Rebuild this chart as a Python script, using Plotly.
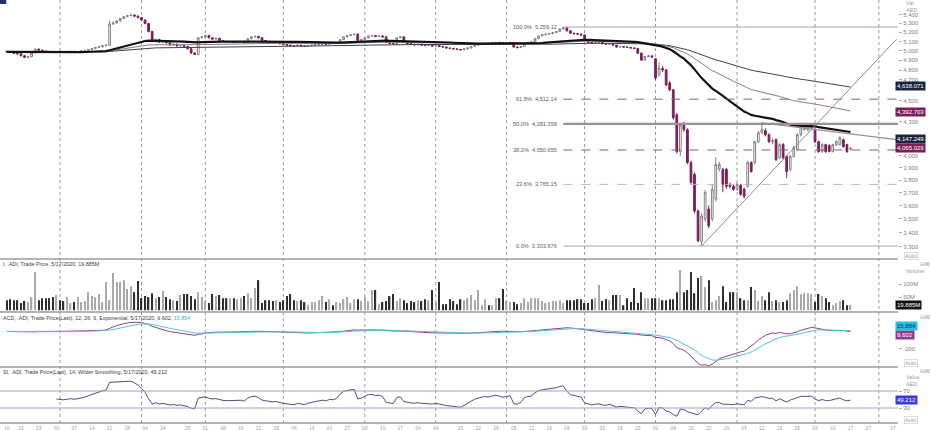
import numpy as np
import pandas as pd
import plotly.graph_objects as go

# ------------------------------------------------------------------ data
open_px = [
    4995, 4988, 4984, 4972, 4968, 4948, 4932, 4938, 4978, 5018, 5006, 4998, 4992, 4990, 4986,
    4992, 4990, 4986, 4990, 4994, 4990, 4992, 4998, 5004, 5012, 5024, 5036, 5042, 5054, 5060, 5295, 5305, 5328, 5355, 5376, 5390, 5394, 5382,
    5365, 5338, 5298, 5210, 5100, 5122, 5092, 5102, 5086, 5062, 5070, 5052, 5056, 5046, 5022, 4976, 4962, 5140,
    5150, 5166, 5140, 5126, 5134, 5110, 5100, 5096, 5098, 5090, 5095, 5100, 5090, 5130, 5150, 5156, 5140, 5110, 5100, 5094, 5086, 5090,
    5076, 5066, 5060, 5055, 5050, 5060, 5050, 5046, 5056, 5060, 5066, 5070, 5076, 5070, 5080, 5078, 5086, 5120, 5150, 5164, 5174, 5180, 5110,
    5120, 5140, 5160, 5164, 5154, 5160, 5150, 5090, 5080, 5076, 5140, 5150, 5090, 5076, 5070, 5064, 5070, 5060, 5056, 5060,
    5050, 5056, 5046, 5040, 5030, 5025, 5020, 5014, 5010, 5020, 5030, 5046, 5060, 5070, 5076, 5080, 5078, 5086, 5090, 5085,
    5080, 5086, 5090, 5040, 5034, 5046, 5080, 5090, 5096, 5130, 5160, 5174, 5180, 5186, 5196, 5210, 5238, 5250, 5216, 5190, 5184, 5180,
    5170, 5110, 5090, 5080, 5086, 5090, 5076, 5070, 5078, 5060, 5040, 5046, 5040, 5036, 5030, 5025, 4975, 4902, 4940, 4946,
    4915, 4750, 4815, 4801, 4670, 4602, 4365, 4037, 4273, 4229, 3944, 3846, 3558, 3334, 3499, 3573, 3499, 3649, 3890, 3887, 3887, 3766, 3750,
    3726, 3758, 3726, 3750, 3944, 3944, 4123, 4202, 4220, 4184, 4123, 4140, 3985, 4097, 3995, 3887, 3995, 4054, 4184, 4229, 4229, 4247,
    4229, 4123, 4037, 4097, 4089, 4037, 4097, 4097, 4140, 4097, 4060,
]
high_px = [
    5000, 4995, 4990, 4980, 4972, 4955, 4945, 4985, 5025, 5024, 5012, 5004, 5000, 4998, 4996,
    4998, 4996, 4994, 4998, 5000, 4996, 5002, 5008, 5016, 5028, 5040, 5048, 5058, 5066, 5330, 5318, 5335, 5362, 5384, 5398, 5402, 5400, 5388,
    5372, 5345, 5305, 5218, 5130, 5128, 5108, 5110, 5092, 5076, 5076, 5062, 5062, 5052, 5028, 4985, 5148, 5158,
    5172, 5172, 5146, 5140, 5140, 5116, 5108, 5104, 5104, 5100, 5106, 5106, 5136, 5156, 5162, 5160, 5146, 5116, 5106, 5100, 5096, 5096,
    5082, 5072, 5066, 5062, 5066, 5064, 5056, 5060, 5064, 5070, 5074, 5080, 5082, 5086, 5086, 5090, 5126, 5156, 5170, 5180, 5186, 5184, 5126,
    5144, 5164, 5170, 5168, 5164, 5164, 5154, 5096, 5086, 5146, 5158, 5154, 5096, 5082, 5076, 5074, 5076, 5066, 5066, 5064,
    5060, 5060, 5052, 5046, 5036, 5030, 5026, 5020, 5024, 5034, 5050, 5064, 5074, 5080, 5084, 5086, 5090, 5094, 5096, 5090,
    5090, 5096, 5094, 5046, 5050, 5084, 5094, 5100, 5136, 5164, 5180, 5184, 5190, 5200, 5214, 5244, 5259.12, 5254, 5222, 5196, 5190, 5186,
    5176, 5116, 5096, 5090, 5096, 5094, 5082, 5084, 5082, 5064, 5050, 5050, 5046, 5042, 5036, 5030, 4980, 4946, 4956, 4952,
    4920, 4880, 4840, 4810, 4690, 4610, 4380, 4290, 4300, 4240, 3960, 3860, 3570, 3540, 3720, 3600, 3760, 3990, 3950, 3900, 3900, 3780, 3765,
    3780, 3770, 3740, 3960, 3955, 4130, 4215, 4300, 4240, 4195, 4150, 4150, 4110, 4110, 4005, 4010, 4085, 4200, 4270, 4290, 4280, 4290,
    4240, 4130, 4110, 4105, 4100, 4105, 4135, 4170, 4150, 4105, 4075,
]
low_px = [
    4982, 4978, 4968, 4962, 4940, 4925, 4922, 4930, 4972, 5000, 4992, 4986, 4984, 4980, 4980,
    4984, 4982, 4980, 4984, 4986, 4982, 4986, 4992, 4998, 5006, 5018, 5028, 5036, 5046, 5052, 5282, 5298, 5320, 5348, 5368, 5380, 5372, 5358,
    5330, 5290, 5200, 5090, 5088, 5085, 5084, 5078, 5054, 5055, 5045, 5046, 5038, 5015, 4968, 4955, 4958, 5132,
    5144, 5134, 5118, 5120, 5104, 5094, 5090, 5088, 5084, 5086, 5090, 5084, 5086, 5124, 5144, 5134, 5104, 5094, 5088, 5080, 5080, 5070,
    5060, 5054, 5048, 5044, 5046, 5044, 5040, 5042, 5050, 5054, 5060, 5064, 5064, 5066, 5072, 5074, 5082, 5116, 5144, 5158, 5168, 5104, 5104,
    5116, 5134, 5152, 5148, 5150, 5144, 5084, 5074, 5070, 5072, 5134, 5084, 5070, 5064, 5058, 5060, 5054, 5050, 5052, 5044,
    5046, 5040, 5034, 5024, 5020, 5014, 5008, 5004, 5006, 5016, 5026, 5042, 5056, 5064, 5070, 5072, 5074, 5080, 5080, 5074,
    5076, 5082, 5034, 5026, 5030, 5042, 5076, 5084, 5092, 5126, 5154, 5168, 5174, 5180, 5190, 5204, 5232, 5210, 5184, 5178, 5172, 5164,
    5104, 5084, 5074, 5076, 5080, 5070, 5064, 5066, 5054, 5034, 5036, 5034, 5030, 5024, 5018, 4968, 4895, 4894, 4930, 4926,
    4700, 4730, 4780, 4640, 4590, 4320, 4020, 4000, 4210, 3930, 3770, 3540, 3330, 3303.6, 3480, 3430, 3480, 3630, 3870, 3703, 3730, 3735, 3715,
    3715, 3675, 3655, 3740, 3860, 3930, 4110, 4190, 4170, 4110, 4100, 3955, 3975, 3970, 3814, 3870, 3985, 4040, 4170, 4220, 4215, 4235,
    4110, 4025, 4025, 4025, 4030, 4030, 4085, 4090, 4070, 4025, 4045,
]
close_px = [
    4988, 4984, 4972, 4968, 4948, 4932, 4938, 4978, 5018, 5006, 4998, 4992, 4990, 4986, 4992,
    4990, 4986, 4990, 4994, 4990, 4992, 4998, 5004, 5012, 5024, 5036, 5042, 5054, 5060, 5295, 5305, 5328, 5355, 5376, 5390, 5394, 5382, 5365,
    5338, 5298, 5210, 5100, 5122, 5092, 5102, 5086, 5062, 5070, 5052, 5056, 5046, 5022, 4976, 4962, 5140, 5150,
    5166, 5140, 5126, 5134, 5110, 5100, 5096, 5098, 5090, 5095, 5100, 5090, 5130, 5150, 5156, 5140, 5110, 5100, 5094, 5086, 5090, 5076,
    5066, 5060, 5055, 5050, 5060, 5050, 5046, 5056, 5060, 5066, 5070, 5076, 5070, 5080, 5078, 5086, 5120, 5150, 5164, 5174, 5180, 5110, 5120,
    5140, 5160, 5164, 5154, 5160, 5150, 5090, 5080, 5076, 5140, 5150, 5090, 5076, 5070, 5064, 5070, 5060, 5056, 5060, 5050,
    5056, 5046, 5040, 5030, 5025, 5020, 5014, 5010, 5020, 5030, 5046, 5060, 5070, 5076, 5080, 5078, 5086, 5090, 5085, 5080,
    5086, 5090, 5040, 5034, 5046, 5080, 5090, 5096, 5130, 5160, 5174, 5180, 5186, 5196, 5210, 5238, 5250, 5216, 5190, 5184, 5180, 5170,
    5110, 5090, 5080, 5086, 5090, 5076, 5070, 5078, 5060, 5040, 5046, 5040, 5036, 5030, 5025, 4975, 4902, 4940, 4946, 4934,
    4720, 4821, 4800, 4651, 4602, 4337, 4037, 4273, 4229, 3944, 3782, 3558, 3340, 3521, 3703, 3448, 3726, 3928, 3928, 3766, 3750, 3750, 3726,
    3766, 3687, 3672, 3944, 3870, 4123, 4202, 4229, 4184, 4123, 4131, 3969, 4097, 3985, 3870, 3995, 4071, 4184, 4256, 4256, 4256, 4265,
    4123, 4037, 4097, 4037, 4037, 4097, 4123, 4158, 4080, 4037, 4065.029,
]
volume_m = [
    38, 42, 38, 38, 27, 35, 31, 50, 146, 38,
    46, 46, 46, 50, 58, 38, 35, 50, 27, 31,
    50, 31, 35, 69, 54, 50, 62, 31, 108, 38,
    142, 108, 108, 115, 81, 92, 69, 112, 46, 54,
    50, 65, 46, 50, 73, 50, 42, 38, 35, 58,
    62, 62, 54, 42, 69, 50, 35, 27, 62, 54,
    58, 46, 46, 46, 46, 42, 46, 54, 65, 46,
    85, 115, 27, 38, 38, 35, 38, 31, 38, 54,
    62, 38, 35, 38,
    31, 19, 31, 31, 38, 54, 31, 42, 19, 31,
    27, 42, 50, 27, 42, 42, 35, 50, 35, 77,
    77, 23, 31, 35, 54, 62, 35, 46, 38, 27,
    35, 31,
    38, 35, 42, 38, 77, 31, 108, 23, 23, 42,
    35, 23, 42, 38, 46, 58, 38, 77, 19, 42,
    19, 19, 46, 46, 81, 35, 31, 31, 23, 27,
    46, 31, 46, 46, 46, 35, 27, 31, 35, 35,
    38, 27, 38, 38, 38, 42, 42, 27, 27, 42,
    46, 96, 35, 42, 38, 58, 58, 58, 19, 46,
    31, 85, 27, 69, 46, 46, 46, 46, 46, 38,
    38, 42, 42, 69, 154, 69, 77, 146, 65, 123,
    131, 89, 115, 31, 38, 54, 92, 31, 69, 69,
    69, 46, 38, 38, 89, 77, 35, 54, 38, 69,
    35, 38, 31, 31, 38, 65, 77, 92, 62, 65,
    65, 62, 31, 62, 54, 46, 31, 19, 27, 35,
    38, 19, 19.885,
]

first_session = "2019-06-10"
calendar_end = "2020-06-30"
market_holidays = ["2019-08-11", "2019-08-12", "2019-08-13", "2019-12-01", "2019-12-02",
                   "2019-12-03", "2020-05-24", "2020-05-25", "2020-05-26"]

fib_levels = [5259.12, 4512.14, 4281.358, 4050.655, 3765.15, 3303.676]
fib_labels = ["100.0%  5,259.12", "61.8%  4,512.14", "50.0%  4,281.358",
              "38.2%  4,050.655", "23.6%  3,765.15", "0.0%  3,303.676"]
fib_start_session = 157

uptrend_sessions = [196, 251]
uptrend_prices = [3303.6, 5125]
downtrend_sessions = [213, 251]
downtrend_prices = [4291, 4140]

price_ticks = [5400, 5300, 5200, 5100, 5000, 4900, 4800, 4700, 4500, 4300,
               4000, 3900, 3800, 3700, 3600, 3500, 3400, 3300]
price_tags = [4638.071, 4392.703, 4147.249, 4065.029]
volume_tag = 19.885
macd_tags = [15.854, 9.602]
rsi_tag = 49.212

vol_title = "l, .ADI, Trade Price, 5/17/2020, 19.885M"
macd_title = ("ACD, .ADI, Trade Price(Last), 12, 26, 9, Exponential, 5/17/2020, 9.602, "
              "<span style='color:#1fb2d4'>15.854</span>")
rsi_title = "SI, .ADI, Trade Price(Last), 14, Wilder Smoothing, 5/17/2020, 49.212"

# ------------------------------------------------------------------ derived
n = len(close_px)
X = list(range(n))
cal = pd.bdate_range(first_session, calendar_end, freq="C",
                     weekmask="Sun Mon Tue Wed Thu", holidays=market_holidays)
c = pd.Series(close_px, dtype=float)
ema_thick = c.ewm(span=60, adjust=False).mean()
ema_mid = c.ewm(span=105, adjust=False).mean()
ema_long = c.ewm(span=200, adjust=False).mean()
macd = c.ewm(span=12, adjust=False).mean() - c.ewm(span=26, adjust=False).mean()
signal = macd.ewm(span=9, adjust=False).mean()

delta = c.diff()
gain = delta.clip(lower=0).fillna(0).values
loss = (-delta).clip(lower=0).fillna(0).values
rsi = [None] * n
ag = gain[1:15].mean()
al = loss[1:15].mean()
rsi[14] = 100 - 100 / (1 + ag / al)
for i in range(15, n):
    ag = (ag * 13 + gain[i]) / 14
    al = (al * 13 + loss[i]) / 14
    rsi[i] = 100 - 100 / (1 + ag / al)

vol_colors = ["#a9a9a9" if cl >= op else "#2f2f2f" for op, cl in zip(open_px, close_px)]

X_MIN, X_MAX = -1.92, 251.4
week_idx, week_lbl, month_idx = [], [], []
prev_key = None
for i, d in enumerate(cal):
    if i > X_MAX:
        break
    key = (d + pd.Timedelta(days=1)).isocalendar()[:2]
    if key != prev_key and (not week_idx or i - week_idx[-1] >= 4):
        week_idx.append(i)
        week_lbl.append(d.strftime("%d"))
    prev_key = key
    if i > 0 and d.month != cal[i - 1].month:
        month_idx.append(i)

# ------------------------------------------------------------------ figure
FONT = "Liberation Sans, Arial, sans-serif"
MAROON = "#7b1f5a"
fig = go.Figure()

fig.add_trace(go.Candlestick(
    x=X, open=open_px, high=high_px, low=low_px, close=close_px,
    increasing=dict(line=dict(color="#808080", width=1), fillcolor="#ffffff"),
    decreasing=dict(line=dict(color=MAROON, width=1), fillcolor=MAROON),
    whiskerwidth=0, xaxis="x", yaxis="y", hoverinfo="skip"))

fig.add_trace(go.Scatter(x=X, y=ema_long, mode="lines", line=dict(color="#3a3f55", width=1),
                         xaxis="x", yaxis="y"))
fig.add_trace(go.Scatter(x=X, y=ema_mid, mode="lines", line=dict(color="#937487", width=1),
                         xaxis="x", yaxis="y"))
fig.add_trace(go.Scatter(x=X, y=ema_thick, mode="lines", line=dict(color="#111111", width=2.2),
                         xaxis="x", yaxis="y"))

fib_styles = [("#b99aad", "solid", 1.2), ("#8c5a78", "dash", 1), ("#a38b9b", "solid", 2.2),
              ("#8c5a78", "dash", 1), ("#d4a9c4", "dash", 1), ("#a5a5a5", "solid", 1.2)]
for lvl, (col, dash, w) in zip(fib_levels, fib_styles):
    fig.add_trace(go.Scatter(x=[fib_start_session, X_MAX], y=[lvl, lvl], mode="lines",
                             line=dict(color=col, dash=dash, width=w), xaxis="x", yaxis="y"))

fig.add_trace(go.Scatter(x=uptrend_sessions, y=uptrend_prices, mode="lines",
                         line=dict(color="#8a8a8a", width=1), xaxis="x", yaxis="y"))
fig.add_trace(go.Scatter(x=downtrend_sessions, y=downtrend_prices, mode="lines",
                         line=dict(color="#9c8c96", width=1.2), xaxis="x", yaxis="y"))

fig.add_trace(go.Bar(x=X, y=[v * 1e6 for v in volume_m], marker=dict(color=vol_colors, line=dict(width=0)),
                     width=0.38, xaxis="x2", yaxis="y2"))

fig.add_trace(go.Scatter(x=X, y=macd, mode="lines", line=dict(color="#8e3f86", width=1),
                         xaxis="x3", yaxis="y3"))
fig.add_trace(go.Scatter(x=X, y=signal, mode="lines", line=dict(color="#56c3dc", width=1),
                         xaxis="x3", yaxis="y3"))

fig.add_trace(go.Scatter(x=X, y=rsi, mode="lines", line=dict(color="#4a4f86", width=1),
                         xaxis="x4", yaxis="y4"))

H = 423.0
def py(px):
    return (H - px) / H

axis_common = dict(showgrid=False, zeroline=False, showline=False)
yaxis_common = dict(side="right", ticks="outside", ticklen=3, tickcolor="#b0b0b0",
                    tickfont=dict(size=6, color="#808080", family=FONT),
                    showgrid=False, zeroline=False, showline=False)

fig.update_layout(
    width=930, height=430, margin=dict(l=0, r=32, t=0, b=7),
    paper_bgcolor="white", plot_bgcolor="white", showlegend=False, hovermode=False,
    font=dict(family=FONT, size=6, color="#444"),
    xaxis=dict(domain=[0, 1], range=[X_MIN, X_MAX], anchor="y", showticklabels=False,
               rangeslider=dict(visible=False), **axis_common),
    xaxis2=dict(domain=[0, 1], matches="x", anchor="y2", showticklabels=False, **axis_common),
    xaxis3=dict(domain=[0, 1], matches="x", anchor="y3", showticklabels=False, **axis_common),
    xaxis4=dict(domain=[0, 1], matches="x", anchor="y4", tickvals=week_idx, ticktext=week_lbl,
                ticks="", tickangle=0, ticklabelstandoff=1,
                tickfont=dict(size=5, color="#a0a0a0", family=FONT), **axis_common),
    yaxis=dict(domain=[py(259), 1], type="log", range=[3.5070, 3.7458],
               tickvals=price_ticks, ticktext=[f"{v:,}" for v in price_ticks], **yaxis_common),
    yaxis2=dict(domain=[py(312), py(259)], range=[-7e6, 196e6], tickvals=[50e6, 100e6],
                ticktext=["50M", "100M"], **yaxis_common),
    yaxis3=dict(domain=[py(367), py(312)], range=[-406, 223], tickvals=[-200],
                ticktext=["-200"], **yaxis_common),
    yaxis4=dict(domain=[0, py(367)], range=[-5.3, 126.5], tickvals=[30, 70],
                ticktext=["30", "70"], **yaxis_common),
)

shapes = []
for m in month_idx:
    shapes.append(dict(type="line", xref="x", yref="paper", x0=m, x1=m, y0=0, y1=1,
                       line=dict(color="#9a9a9a", width=1, dash="dot"), layer="below"))
for ypx in (259, 312, 367, 423):
    shapes.append(dict(type="line", xref="paper", yref="paper", x0=0, x1=1, y0=py(ypx), y1=py(ypx),
                       line=dict(color="#9b9b9b", width=1.6)))
for lvl in (30, 70):
    shapes.append(dict(type="line", xref="paper", yref="y4", x0=0, x1=1, y0=lvl, y1=lvl,
                       line=dict(color="#a79fc2", width=1)))
shapes.append(dict(type="rect", xref="paper", yref="paper", x0=0, x1=0.007, y0=py(4), y1=1,
                   fillcolor="#22306a", line=dict(width=0)))
fig.update_layout(shapes=shapes)

ann = []
for lvl, txt in zip(fib_levels, fib_labels):
    ann.append(dict(x=fib_start_session - 1.2, y=np.log10(lvl), xref="x", yref="y", text=txt,
                    showarrow=False, xanchor="right", yanchor="middle",
                    font=dict(size=5.6, color="#6d5565", family=FONT)))

def tag(y, yref, text, bg, fg="white", yshift=0):
    return dict(x=1, y=y, xref="paper", yref=yref, text=text, showarrow=False,
                xanchor="left", yanchor="middle", xshift=-3, yshift=yshift,
                bgcolor=bg, borderpad=1, font=dict(size=6, color=fg, family=FONT))

tag_colors = ["#1b2340", MAROON, "#1b2340", MAROON]
for v, col in zip(price_tags, tag_colors):
    ann.append(tag(np.log10(v), "y", f"{v:,.3f}", col))
ann.append(tag(volume_tag * 1e6, "y2", f"{volume_tag:.3f}M", "#111111"))
ann.append(tag(macd_tags[0], "y3", f"{macd_tags[0]:.3f}", "#22c0e6", "#10304a", yshift=4))
ann.append(tag(macd_tags[1], "y3", f"{macd_tags[1]:.3f}", "#8b3d8e", "white", yshift=-4))
ann.append(tag(rsi_tag, "y4", f"{rsi_tag:.3f}", "#3a3ad8"))

def side_text(ypx, text, xshift=6, boxed=False):
    d = dict(x=1, y=py(ypx), xref="paper", yref="paper", text=text, showarrow=False,
             xanchor="left", yanchor="middle", xshift=xshift,
             font=dict(size=5.5, color="#9a9a9a", family=FONT))
    if boxed:
        d.update(bordercolor="#c8c8c8", borderwidth=0.6, borderpad=0.5)
    return d

ann += [side_text(3, "Val"), side_text(10, "AED"), side_text(256, "Auto", boxed=True),
        side_text(264, "⊟⊠", xshift=20), side_text(271, "Volume"),
        side_text(317, "⊟⊠", xshift=20), side_text(363, "Auto", boxed=True),
        side_text(371, "⊟⊠", xshift=20), side_text(377, "Value"), side_text(384, "AED"),
        side_text(420, "Auto", boxed=True)]

for ypx, txt in ((264, vol_title), (318, macd_title), (372, rsi_title)):
    ann.append(dict(x=0, y=py(ypx), xref="paper", yref="paper", text=txt, showarrow=False,
                    xanchor="left", yanchor="middle", xshift=1,
                    font=dict(size=5.4, color="#3c3c3c", family=FONT)))
fig.update_layout(annotations=ann)

fig.write_html("out.html", config={"displayModeBar": False},
               post_script="document.body.style.margin='0px';document.body.style.overflow='hidden';")
